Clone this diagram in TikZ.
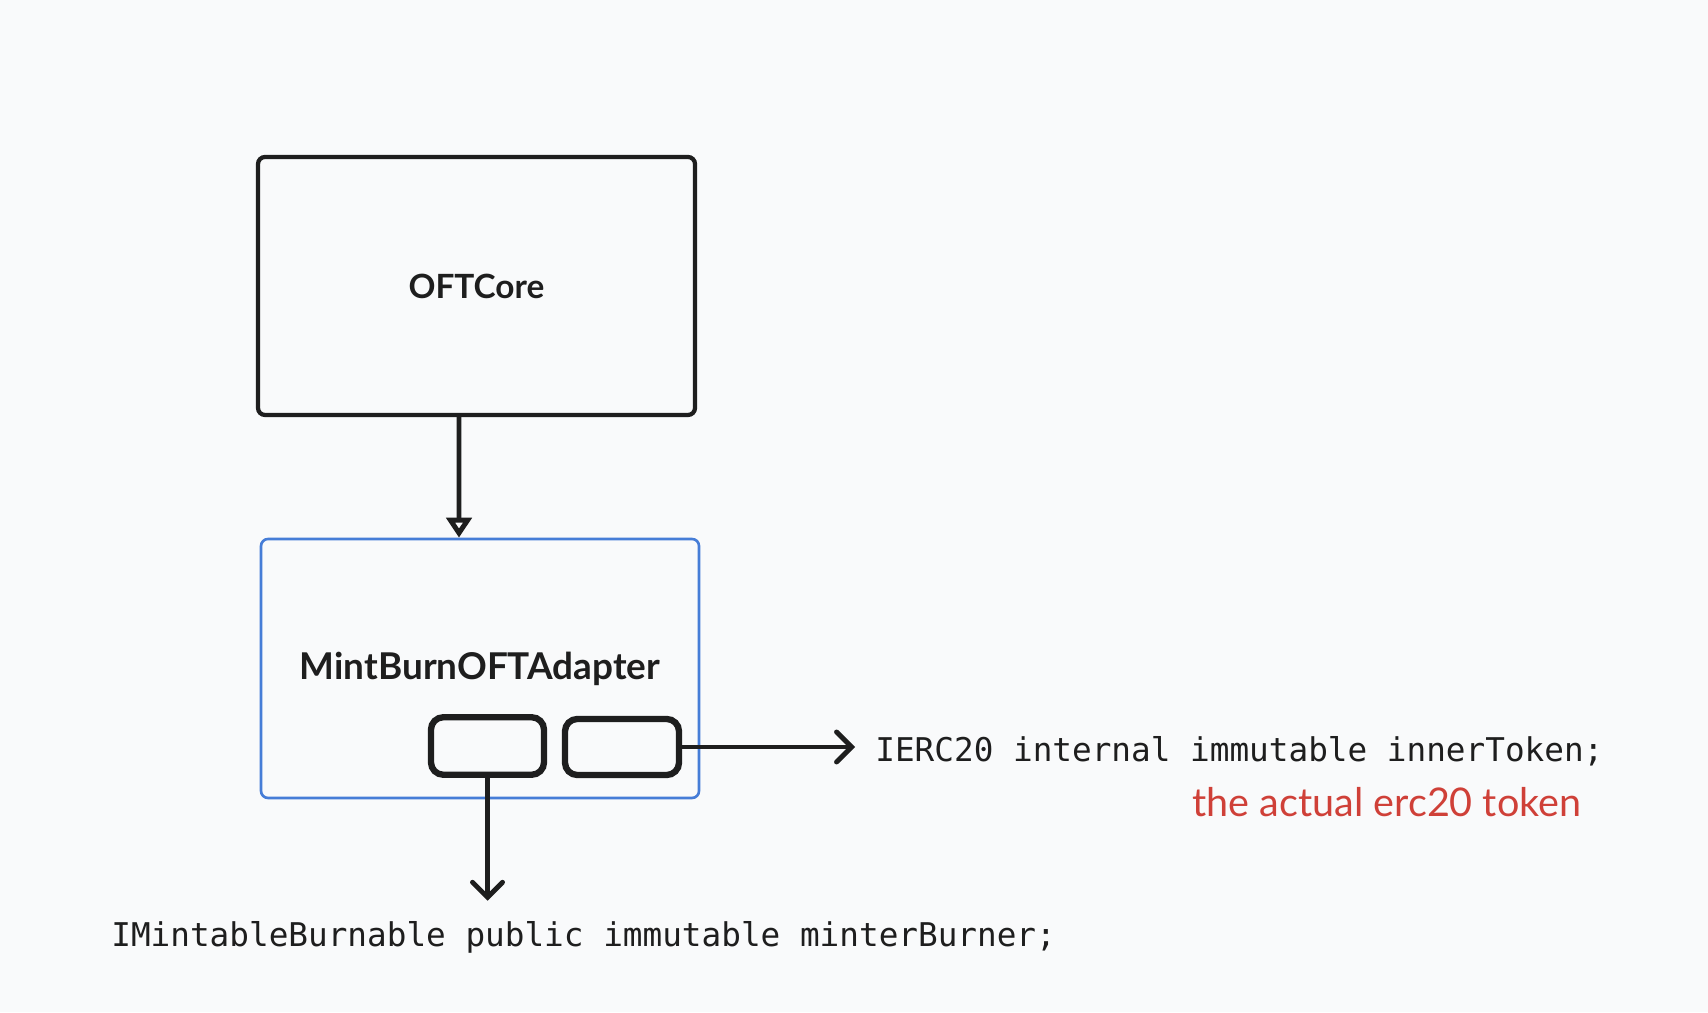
\documentclass[tikz,border=0pt]{standalone}
\usepackage{fontspec}
\setmainfont{Lato}
\setmonofont{DejaVu Sans Mono}
\usetikzlibrary{arrows.meta,positioning,calc}
\definecolor{bgpaper}{RGB}{249,250,251}
\definecolor{inkblack}{RGB}{30,30,30}
\definecolor{adaptblue}{RGB}{70,125,215}
\definecolor{noteRed}{RGB}{207,64,56}

\begin{document}
\begin{tikzpicture}[
    font=\bfseries\fontsize{19}{22}\selectfont,
    cls/.style={rectangle, draw=inkblack, line width=2.4pt, rounded corners=4pt, align=center, text=inkblack},
    slot/.style={rectangle, draw=inkblack, line width=3.6pt, rounded corners=7pt, minimum height=1.15cm},
    code/.style={font=\ttfamily\fontsize{18.6}{22}\selectfont, text=inkblack, inner sep=0pt},
    inh/.style={-{Triangle[open,length=4mm,width=5mm,fill=bgpaper]}, line width=2.8pt, draw=inkblack},
    arr/.style={-{Straight Barb[length=3mm,width=6mm,line cap=round]}, line width=2.8pt, draw=inkblack},
  ]
  \fill[bgpaper] (0,0) rectangle (34.16,20.24);
  \useasboundingbox (0,0) rectangle (34.16,20.24);

  \node[cls, minimum width=8.74cm, minimum height=5.16cm] (core) at (9.53,14.52) {OFTCore};
  \node[cls, draw=adaptblue, line width=1.5pt, minimum width=8.76cm, minimum height=5.18cm,
    font=\bfseries\fontsize{21}{24}\selectfont] (adapter) at (9.6,6.87) {MintBurnOFTAdapter};
  \node[slot, minimum width=2.26cm] (mintslot) at (9.75,5.32) {};
  \node[slot, minimum width=2.28cm, minimum height=1.12cm] (tokslot) at (12.44,5.30) {};

  \node[code, anchor=west] (inner) at (17.5,5.22) {IERC20 internal immutable innerToken;};
  \node[anchor=east, text=noteRed, font=\fontsize{22.5}{26}\selectfont] (note) at (31.75,4.2) {the actual erc20 token};
  \node[code, anchor=west] (minter) at (2.22,1.50) {IMintableBurnable public immutable minterBurner;};

  \draw[inh] ([xshift=-3.5mm]core.south) -- ([xshift=-4.2mm]adapter.north);
  \draw[arr, shorten >=4mm] (tokslot.east) -- (tokslot.east -| inner.west);
  \draw[arr, shorten >=4mm] (mintslot.south) -- (mintslot.south |- minter.north);
\end{tikzpicture}
\end{document}
